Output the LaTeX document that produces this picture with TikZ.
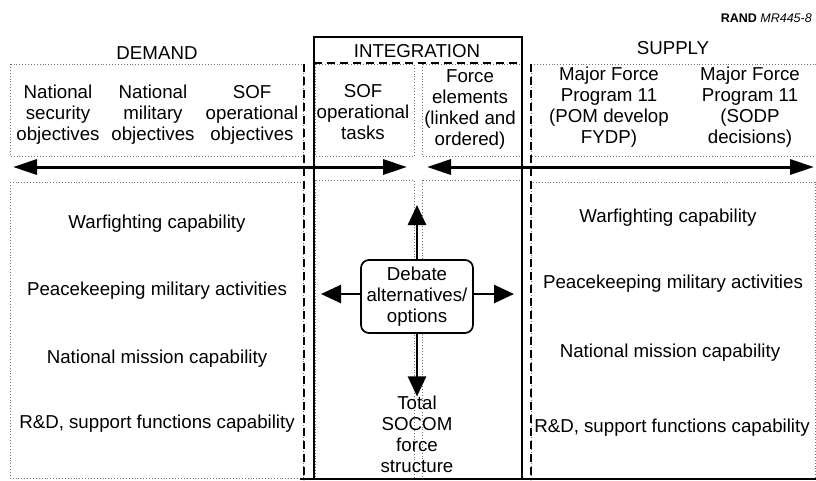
\documentclass[tikz,border=0pt]{standalone}
\usepackage{fontspec}
\setmainfont{Liberation Sans}
\usetikzlibrary{arrows.meta}
\begin{document}
\begin{tikzpicture}[x=1pt,y=-1pt,
  lbl/.style={align=center,inner sep=0pt,font=\fontsize{18.7}{21}\selectfont},
  dotbox/.style={draw=black!55,dotted,line width=0.9pt},
  dashline/.style={draw=black,line width=2.5pt,dash pattern=on 8pt off 5pt},
  intline/.style={draw=black,line width=1.8pt},
  bigarrow/.style={line width=3pt,{Triangle[length=24pt,width=15pt]}-{Triangle[length=24pt,width=15pt]}},
  smallarrow/.style={line width=2.6pt,-{Triangle[length=20pt,width=18pt]}},
  debatebox/.style={draw,line width=1.7pt,rounded corners=8pt,minimum width=112pt,minimum height=73pt,align=center,inner sep=0pt,font=\fontsize{18.7}{21}\selectfont}
]
\useasboundingbox (0,0) rectangle (816,480);

% dotted boxes
\draw[dotbox] (10,64) rectangle (303,156);
\draw[dotbox] (315,64) rectangle (414,156);
\draw[dotbox] (422,64) rectangle (521,156);
\draw[dotbox] (531,64) rectangle (818,156);
\draw[dotbox] (10,182) rectangle (303,478);
\draw[dotbox] (315,180) rectangle (414,478);
\draw[dotbox] (422,180) rectangle (521,478);
\draw[dotbox] (531,182) rectangle (815,478);

% dashed lines
\draw[dashline] (304,64) -- (304,480);
\draw[dashline] (531,64) -- (531,480);
\draw[dashline] (314,63) -- (522,63);

% integration frame
\draw[intline] (314,480) -- (314,37) -- (522,37) -- (522,480);
\draw[line width=1.5pt] (300,479) -- (816,479);

% headings
\node[anchor=east,inner sep=0pt,font=\fontsize{12.5}{14}\selectfont] (rand) at (812,18) {{\bfseries RAND} {\itshape MR445-8}};
\node[lbl] (demand) at (157,53) {DEMAND};
\node[lbl] (integration) at (417,51) {INTEGRATION};
\node[lbl] (supply) at (673,48) {SUPPLY};

% upper row
\node[lbl] (nso) at (58,115) {National\\security\\objectives};
\node[lbl] (nmo) at (153,115) {National\\military\\objectives};
\node[lbl] (sofobj) at (252,115) {SOF\\operational\\objectives};
\node[lbl] (softasks) at (363,112) {SOF\\operational\\tasks};
\node[lbl] (force) at (470,109) {Force\\elements\\(linked and\\ordered)};
\node[lbl] (mfp1) at (609,107) {Major Force\\Program 11\\(POM develop\\FYDP)};
\node[lbl] (mfp2) at (750,107) {Major Force\\Program 11\\(SODP\\decisions)};

% horizontal arrows
\coordinate (la) at (13,167);
\coordinate (lb) at (407,167);
\coordinate (ra) at (427,167);
\coordinate (rb) at (814,167);
\draw[bigarrow] (la) -- (lb);
\draw[bigarrow] (ra) -- (rb);

% lower left
\node[lbl] (wf1) at (157,224) {Warfighting capability};
\node[lbl] (pk1) at (157,291) {Peacekeeping military activities};
\node[lbl] (nm1) at (157,359) {National mission capability};
\node[lbl] (rd1) at (157,424) {R\&D, support functions capability};

% lower right
\node[lbl] (wf2) at (668,218) {Warfighting capability};
\node[lbl] (pk2) at (673,284) {Peacekeeping military activities};
\node[lbl] (nm2) at (670,353) {National mission capability};
\node[lbl] (rd2) at (672,428) {R\&D, support functions capability};

% centre
\node[debatebox,fill=white] (debate) at (417,296.5) {Debate\\alternatives/\\options};
\node[lbl] (total) at (417,434) {Total\\SOCOM\\force\\structure};
\coordinate (up) at (417,205);
\coordinate (lt) at (321,294);
\coordinate (rt) at (514,294);
\draw[smallarrow] (debate.north) -- (up);
\draw[smallarrow] (debate.south) -- ([yshift=-1pt]total.north);
\draw[smallarrow] (debate.west |- lt) -- (lt);
\draw[smallarrow] (debate.east |- rt) -- (rt);
\end{tikzpicture}
\end{document}
